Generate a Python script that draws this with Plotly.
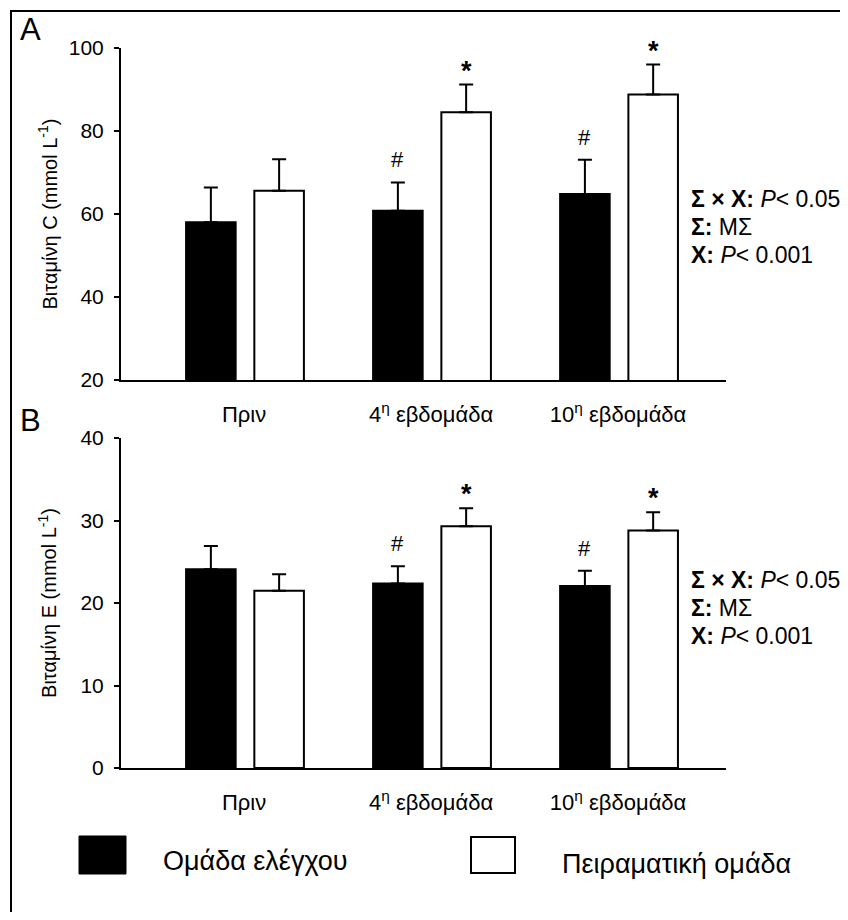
import plotly.graph_objects as go

# ---------------- data ----------------
categories = ["Πριν", "4<sup>η</sup> εβδομάδα", "10<sup>η</sup> εβδομάδα"]
group_names = ["Ομάδα ελέγχου", "Πειραματική ομάδα"]

vitc_control = [58.0, 60.8, 64.8]
vitc_control_err = [8.4, 6.8, 8.3]
vitc_exp = [65.6, 84.5, 88.8]
vitc_exp_err = [7.6, 6.7, 7.2]

vite_control = [24.1, 22.35, 22.05]
vite_control_err = [2.8, 2.1, 1.85]
vite_exp = [21.5, 29.3, 28.8]
vite_exp_err = [2.0, 2.2, 2.2]

control_marks = ["", "#", "#"]
exp_marks = ["", "*", "*"]

stat_lines = ["<b>Σ × X:</b> <i>P</i>&lt; 0.05", "<b>Σ:</b> ΜΣ", "<b>X:</b> <i>P</i>&lt; 0.001"]

vitc_ticks = [20, 40, 60, 80, 100]
vite_ticks = [0, 10, 20, 30, 40]

# ---------------- style ----------------
PAGE_OFF = 8  # body margin of the html page
W, H = 848 - PAGE_OFF, 920 - 2 * PAGE_OFF
# plot area in screen pixels
SX0, SX1, SY0, SY1 = 121, 726, 48, 768
ML, MT = SX0 - PAGE_OFF, SY0 - PAGE_OFF
MR, MB = W - (SX1 - PAGE_OFF), H - (SY1 - PAGE_OFF)
PW, PH = SX1 - SX0, SY1 - SY0
FONT = "Liberation Sans, Arial, sans-serif"

def px_x(px):
    return (px - SX0) / PW

def px_y(py):
    return 1 - (py - SY0) / PH

xpos = list(range(len(categories)))
BAR_W = 0.265
OFF_C, OFF_E = -0.31, 0.055

fig = go.Figure()

def add_panel(ctrl, ctrl_err, exp, exp_err, xa, ya):
    fig.add_trace(go.Bar(
        x=xpos, y=ctrl, width=BAR_W, offset=OFF_C, name=group_names[0],
        marker=dict(color="black", line=dict(color="black", width=2)),
        error_y=dict(type="data", array=ctrl_err, arrayminus=[0] * len(ctrl),
                     symmetric=False, color="black", thickness=2, width=7),
        xaxis=xa, yaxis=ya, showlegend=False))
    fig.add_trace(go.Bar(
        x=xpos, y=exp, width=BAR_W, offset=OFF_E, name=group_names[1],
        marker=dict(color="white", line=dict(color="black", width=2)),
        error_y=dict(type="data", array=exp_err, arrayminus=[0] * len(exp),
                     symmetric=False, color="black", thickness=2, width=7),
        xaxis=xa, yaxis=ya, showlegend=False))
    for i in xpos:
        if control_marks[i]:
            fig.add_annotation(x=i + OFF_C + BAR_W / 2, y=ctrl[i] + ctrl_err[i],
                               xref=xa, yref=ya, text=control_marks[i], showarrow=False,
                               yanchor="bottom", yshift=8,
                               font=dict(family=FONT, size=22, color="black"))
        if exp_marks[i]:
            fig.add_annotation(x=i + OFF_E + BAR_W / 2, y=exp[i] + exp_err[i],
                               xref=xa, yref=ya, text="<b>" + exp_marks[i] + "</b>", showarrow=False,
                               yanchor="bottom", yshift=-3,
                               font=dict(family=FONT, size=27, color="black"))

add_panel(vitc_control, vitc_control_err, vitc_exp, vitc_exp_err, "x", "y")
add_panel(vite_control, vite_control_err, vite_exp, vite_exp_err, "x2", "y2")

xaxis_common = dict(
    range=[-0.658, 2.577], tickvals=xpos, ticktext=categories, showline=True,
    linecolor="black", linewidth=2, ticks="", showgrid=False, zeroline=False,
    tickfont=dict(family=FONT, size=22, color="black"), ticklabelstandoff=14,
)
yaxis_common = dict(
    showline=True, linecolor="black", linewidth=2, ticks="outside", ticklen=5,
    tickwidth=2, tickcolor="black", showgrid=False, zeroline=False,
    tickfont=dict(family=FONT, size=21, color="black"), ticklabelstandoff=6,
)

fig.update_layout(
    width=W, height=H,
    margin=dict(l=ML, r=MR, t=MT, b=MB),
    plot_bgcolor="white", paper_bgcolor="white",
    showlegend=False,
    xaxis=dict(domain=[0, 1], anchor="y", **xaxis_common),
    yaxis=dict(domain=[px_y(380), 1], anchor="x", range=[20, 100], tickvals=vitc_ticks,
               title=dict(text="Βιταμίνη C (mmol L<sup>-1</sup>)", standoff=6,
                          font=dict(family=FONT, size=20, color="black")),
               **yaxis_common),
    xaxis2=dict(domain=[0, 1], anchor="y2", **xaxis_common),
    yaxis2=dict(domain=[0, px_y(438)], anchor="x2", range=[0, 40], tickvals=vite_ticks,
                title=dict(text="Βιταμίνη E (mmol L<sup>-1</sup>)", standoff=18,
                           font=dict(family=FONT, size=20, color="black")),
                **yaxis_common),
)

# outer frame: only its top and left edges are inside the original crop
fig.add_shape(type="line", xref="paper", yref="paper",
              x0=px_x(10), x1=px_x(900), y0=px_y(11), y1=px_y(11),
              line=dict(color="black", width=2))
fig.add_shape(type="line", xref="paper", yref="paper",
              x0=px_x(11), x1=px_x(11), y0=px_y(10), y1=px_y(960),
              line=dict(color="black", width=2))

# panel letters
for letter, cy in (("A", 29), ("B", 420)):
    fig.add_annotation(xref="paper", yref="paper", x=px_x(18), y=px_y(cy),
                       xanchor="left", yanchor="middle", text=letter, showarrow=False,
                       font=dict(family=FONT, size=31, color="black"))

# stat texts
for centers in ((199, 227, 255), (580, 608, 636)):
    for line, cy in zip(stat_lines, centers):
        fig.add_annotation(xref="paper", yref="paper", x=px_x(689), y=px_y(cy),
                           xanchor="left", yanchor="middle", text=line, showarrow=False,
                           font=dict(family=FONT, size=23, color="black"))

# custom legend
fig.add_shape(type="rect", xref="paper", yref="paper",
              x0=px_x(79), x1=px_x(126), y0=px_y(874), y1=px_y(836),
              line=dict(color="black", width=1), fillcolor="black")
fig.add_shape(type="rect", xref="paper", yref="paper",
              x0=px_x(471), x1=px_x(515), y0=px_y(873), y1=px_y(837),
              line=dict(color="black", width=2), fillcolor="white")
fig.add_annotation(xref="paper", yref="paper", x=px_x(161), y=px_y(861),
                   xanchor="left", yanchor="middle", text=group_names[0], showarrow=False,
                   font=dict(family=FONT, size=27, color="black"))
fig.add_annotation(xref="paper", yref="paper", x=px_x(560), y=px_y(864),
                   xanchor="left", yanchor="middle", text=group_names[1], showarrow=False,
                   font=dict(family=FONT, size=27, color="black"))

fig.write_html("out.html")
